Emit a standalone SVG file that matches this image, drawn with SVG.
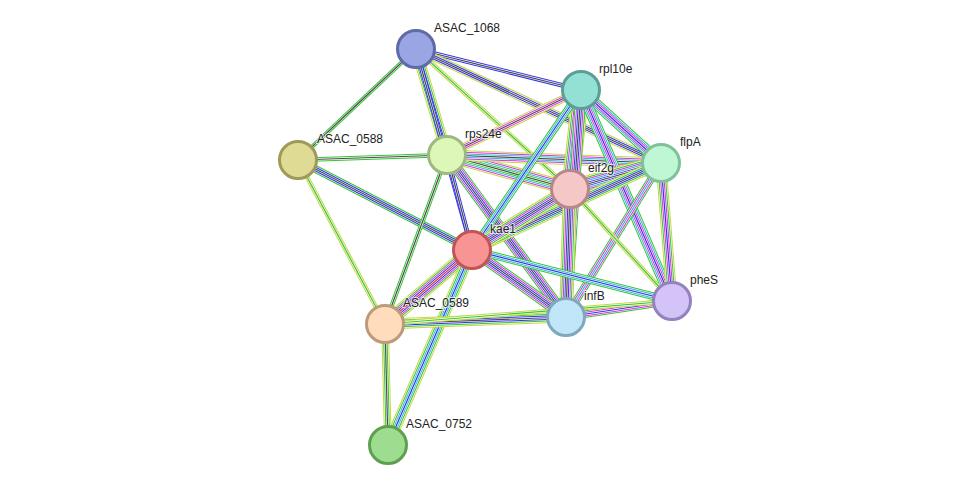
<svg xmlns="http://www.w3.org/2000/svg" xmlns:xlink="http://www.w3.org/1999/xlink" width="975" height="491" viewBox="0 0 975 491">
<style>
.e use{fill:none;stroke-linecap:butt}
.g{stroke:#33c633}.b{stroke:#3333ee}.k{stroke:#4a4a4a}.m{stroke:#dd33dd}.y{stroke:#c6d840}.c{stroke:#33b8d8}.r{stroke:#ee3333}.wh{stroke:#fff}
.w1{stroke-width:1.2}.w2{stroke-width:4.4}.w3{stroke-width:7.6}.w4{stroke-width:10.8}.w5{stroke-width:14}.w6{stroke-width:17.2}
.x2{stroke-width:2.4}.x3{stroke-width:5.6}.x4{stroke-width:8.8}.x5{stroke-width:12}.x6{stroke-width:15.2}
.n circle{stroke-width:3}
text{font-family:"Liberation Sans",Arial,sans-serif;font-size:12px;fill:#222;paint-order:stroke;stroke:#fff;stroke-width:2px;stroke-opacity:.7}
</style>
<defs>
<path id="e1" d="M416,49L298,160"/>
<path id="e2" d="M416,49L447,155"/>
<path id="e3" d="M416,49L581,90"/>
<path id="e4" d="M416,49L661,163"/>
<path id="e5" d="M416,49L570,189"/>
<path id="e6" d="M416,49L472,250"/>
<path id="e7" d="M298,160L447,155"/>
<path id="e8" d="M298,160L472,250"/>
<path id="e9" d="M298,160L385,324"/>
<path id="e10" d="M447,155L472,250"/>
<path id="e11" d="M447,155L385,324"/>
<path id="e12" d="M447,155L570,189"/>
<path id="e13" d="M447,155L661,163"/>
<path id="e14" d="M447,155L581,90"/>
<path id="e15" d="M447,155L566,317"/>
<path id="e16" d="M581,90L570,189"/>
<path id="e17" d="M581,90L661,163"/>
<path id="e18" d="M581,90L566,317"/>
<path id="e19" d="M581,90L672,301"/>
<path id="e20" d="M581,90L472,250"/>
<path id="e21" d="M661,163L570,189"/>
<path id="e22" d="M661,163L566,317"/>
<path id="e23" d="M661,163L672,301"/>
<path id="e24" d="M661,163L472,250"/>
<path id="e25" d="M570,189L472,250"/>
<path id="e26" d="M570,189L566,317"/>
<path id="e27" d="M570,189L672,301"/>
<path id="e28" d="M472,250L566,317"/>
<path id="e29" d="M472,250L672,301"/>
<path id="e30" d="M472,250L385,324"/>
<path id="e31" d="M472,250L388,445"/>
<path id="e32" d="M566,317L672,301"/>
<path id="e33" d="M566,317L385,324"/>
<path id="e34" d="M385,324L388,445"/>
<path id="e35" d="M385,324L672,301"/>
</defs>
<g id="connectors" class="e">
<use href="#e1" class="g w2"/><use href="#e1" class="wh x2"/><use href="#e1" class="k w1"/>
<use href="#e2" class="y w4"/><use href="#e2" class="wh x4"/><use href="#e2" class="g w3"/><use href="#e2" class="wh x3"/><use href="#e2" class="b w2"/><use href="#e2" class="wh x2"/><use href="#e2" class="k w1"/>
<use href="#e3" class="b w2"/><use href="#e3" class="wh x2"/><use href="#e3" class="k w1"/>
<use href="#e4" class="y w3"/><use href="#e4" class="wh x3"/><use href="#e4" class="b w2"/><use href="#e4" class="wh x2"/><use href="#e4" class="k w1"/>
<use href="#e5" class="y w2"/><use href="#e5" class="wh x2"/><use href="#e5" class="g w1"/>
<use href="#e6" class="b w2"/><use href="#e6" class="wh x2"/><use href="#e6" class="k w1"/>
<use href="#e7" class="g w2"/><use href="#e7" class="wh x2"/><use href="#e7" class="k w1"/>
<use href="#e8" class="g w3"/><use href="#e8" class="wh x3"/><use href="#e8" class="b w2"/><use href="#e8" class="wh x2"/><use href="#e8" class="k w1"/>
<use href="#e9" class="y w2"/><use href="#e9" class="wh x2"/><use href="#e9" class="g w1"/>
<use href="#e10" class="b w2"/><use href="#e10" class="wh x2"/><use href="#e10" class="k w1"/>
<use href="#e11" class="g w2"/><use href="#e11" class="wh x2"/><use href="#e11" class="k w1"/>
<use href="#e12" class="y w5"/><use href="#e12" class="wh x5"/><use href="#e12" class="m w4"/><use href="#e12" class="wh x4"/><use href="#e12" class="c w3"/><use href="#e12" class="wh x3"/><use href="#e12" class="g w2"/><use href="#e12" class="wh x2"/><use href="#e12" class="k w1"/>
<use href="#e13" class="y w4"/><use href="#e13" class="wh x4"/><use href="#e13" class="m w3"/><use href="#e13" class="wh x3"/><use href="#e13" class="c w2"/><use href="#e13" class="wh x2"/><use href="#e13" class="k w1"/>
<use href="#e14" class="y w3"/><use href="#e14" class="wh x3"/><use href="#e14" class="m w2"/><use href="#e14" class="wh x2"/><use href="#e14" class="k w1"/>
<use href="#e15" class="g w4"/><use href="#e15" class="wh x4"/><use href="#e15" class="m w3"/><use href="#e15" class="wh x3"/><use href="#e15" class="b w2"/><use href="#e15" class="wh x2"/><use href="#e15" class="k w1"/>
<use href="#e16" class="y w6"/><use href="#e16" class="wh x6"/><use href="#e16" class="g w5"/><use href="#e16" class="wh x5"/><use href="#e16" class="m w4"/><use href="#e16" class="wh x4"/><use href="#e16" class="c w3"/><use href="#e16" class="wh x3"/><use href="#e16" class="b w2"/><use href="#e16" class="wh x2"/><use href="#e16" class="k w1"/>
<use href="#e17" class="g w4"/><use href="#e17" class="wh x4"/><use href="#e17" class="c w3"/><use href="#e17" class="wh x3"/><use href="#e17" class="m w2"/><use href="#e17" class="wh x2"/><use href="#e17" class="b w1"/>
<use href="#e18" class="g w4"/><use href="#e18" class="wh x4"/><use href="#e18" class="m w3"/><use href="#e18" class="wh x3"/><use href="#e18" class="b w2"/><use href="#e18" class="wh x2"/><use href="#e18" class="k w1"/>
<use href="#e19" class="g w4"/><use href="#e19" class="wh x4"/><use href="#e19" class="c w3"/><use href="#e19" class="wh x3"/><use href="#e19" class="m w2"/><use href="#e19" class="wh x2"/><use href="#e19" class="b w1"/>
<use href="#e20" class="g w3"/><use href="#e20" class="wh x3"/><use href="#e20" class="c w2"/><use href="#e20" class="wh x2"/><use href="#e20" class="b w1"/>
<use href="#e21" class="y w6"/><use href="#e21" class="wh x6"/><use href="#e21" class="g w5"/><use href="#e21" class="wh x5"/><use href="#e21" class="m w4"/><use href="#e21" class="wh x4"/><use href="#e21" class="c w3"/><use href="#e21" class="wh x3"/><use href="#e21" class="b w2"/><use href="#e21" class="wh x2"/><use href="#e21" class="k w1"/>
<use href="#e22" class="g w3"/><use href="#e22" class="wh x3"/><use href="#e22" class="m w2"/><use href="#e22" class="wh x2"/><use href="#e22" class="c w1"/>
<use href="#e23" class="y w4"/><use href="#e23" class="wh x4"/><use href="#e23" class="g w3"/><use href="#e23" class="wh x3"/><use href="#e23" class="m w2"/><use href="#e23" class="wh x2"/><use href="#e23" class="b w1"/>
<use href="#e24" class="y w4"/><use href="#e24" class="wh x4"/><use href="#e24" class="g w3"/><use href="#e24" class="wh x3"/><use href="#e24" class="b w2"/><use href="#e24" class="wh x2"/><use href="#e24" class="k w1"/>
<use href="#e25" class="y w5"/><use href="#e25" class="wh x5"/><use href="#e25" class="g w4"/><use href="#e25" class="wh x4"/><use href="#e25" class="m w3"/><use href="#e25" class="wh x3"/><use href="#e25" class="b w2"/><use href="#e25" class="wh x2"/><use href="#e25" class="k w1"/>
<use href="#e26" class="y w5"/><use href="#e26" class="wh x5"/><use href="#e26" class="g w4"/><use href="#e26" class="wh x4"/><use href="#e26" class="m w3"/><use href="#e26" class="wh x3"/><use href="#e26" class="b w2"/><use href="#e26" class="wh x2"/><use href="#e26" class="k w1"/>
<use href="#e27" class="y w2"/><use href="#e27" class="wh x2"/><use href="#e27" class="g w1"/>
<use href="#e28" class="g w4"/><use href="#e28" class="wh x4"/><use href="#e28" class="m w3"/><use href="#e28" class="wh x3"/><use href="#e28" class="b w2"/><use href="#e28" class="wh x2"/><use href="#e28" class="k w1"/>
<use href="#e29" class="g w3"/><use href="#e29" class="wh x3"/><use href="#e29" class="c w2"/><use href="#e29" class="wh x2"/><use href="#e29" class="b w1"/>
<use href="#e30" class="y w5"/><use href="#e30" class="wh x5"/><use href="#e30" class="g w4"/><use href="#e30" class="wh x4"/><use href="#e30" class="m w3"/><use href="#e30" class="wh x3"/><use href="#e30" class="b w2"/><use href="#e30" class="wh x2"/><use href="#e30" class="r w1"/>
<use href="#e31" class="y w4"/><use href="#e31" class="wh x4"/><use href="#e31" class="g w3"/><use href="#e31" class="wh x3"/><use href="#e31" class="c w2"/><use href="#e31" class="wh x2"/><use href="#e31" class="b w1"/>
<use href="#e32" class="g w3"/><use href="#e32" class="wh x3"/><use href="#e32" class="m w2"/><use href="#e32" class="wh x2"/><use href="#e32" class="b w1"/>
<use href="#e33" class="y w4"/><use href="#e33" class="wh x4"/><use href="#e33" class="g w3"/><use href="#e33" class="wh x3"/><use href="#e33" class="b w2"/><use href="#e33" class="wh x2"/><use href="#e33" class="k w1"/>
<use href="#e34" class="y w3"/><use href="#e34" class="wh x3"/><use href="#e34" class="g w2"/><use href="#e34" class="wh x2"/><use href="#e34" class="k w1"/>
<use href="#e35" class="y w2"/><use href="#e35" class="wh x2"/><use href="#e35" class="g w1"/>
</g>
<g id="ASAC_1068" class="n"><circle cx="416" cy="49" r="18.5" fill="#9aa5e4" stroke="#5f6aa8"/><text x="434" y="32">ASAC_1068</text></g>
<g id="rpl10e" class="n"><circle cx="581" cy="90" r="18.5" fill="#93e0d5" stroke="#5c9e95"/><text x="599" y="73">rpl10e</text></g>
<g id="flpA" class="n"><circle cx="661" cy="163" r="18.5" fill="#bff7d5" stroke="#7fc29a"/><text x="680" y="146">flpA</text></g>
<g id="rps24e" class="n"><circle cx="447" cy="155" r="18.5" fill="#ddf7b8" stroke="#9fb880"/><text x="465" y="138">rps24e</text></g>
<g id="ASAC_0588" class="n"><circle cx="298" cy="160" r="18.5" fill="#dfdb95" stroke="#9e9a5a"/><text x="317" y="143">ASAC_0588</text></g>
<g id="eif2g" class="n"><circle cx="570" cy="189" r="18.5" fill="#f6c7c7" stroke="#b88888"/><text x="588" y="172">eif2g</text></g>
<g id="kae1" class="n"><circle cx="472" cy="250" r="18.5" fill="#f99494" stroke="#c05555"/><text x="490" y="233">kae1</text></g>
<g id="pheS" class="n"><circle cx="672" cy="301" r="18.5" fill="#d4c3f6" stroke="#9580c0"/><text x="690" y="284">pheS</text></g>
<g id="infB" class="n"><circle cx="566" cy="317" r="18.5" fill="#c2e6f9" stroke="#80a8bd"/><text x="584" y="300">infB</text></g>
<g id="ASAC_0589" class="n"><circle cx="385" cy="324" r="18.5" fill="#fedcbc" stroke="#bb9b7a"/><text x="403" y="307">ASAC_0589</text></g>
<g id="ASAC_0752" class="n"><circle cx="388" cy="445" r="18.5" fill="#9edc8f" stroke="#5fa050"/><text x="406" y="428">ASAC_0752</text></g>
</svg>
